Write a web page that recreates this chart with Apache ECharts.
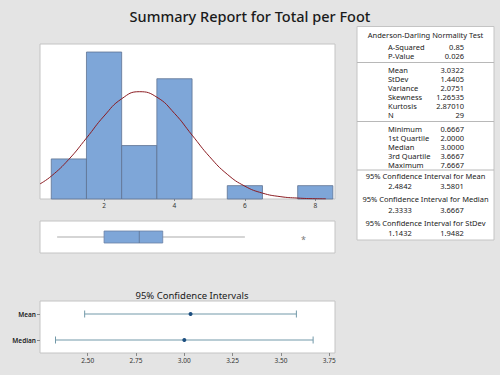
<!DOCTYPE html>
<html>
<head>
<meta charset="utf-8">
<script src="https://cdn.jsdelivr.net/npm/echarts@6/dist/echarts.min.js"></script>
<style>
  html, body { margin: 0; padding: 0; background: #e4e4e4; }
  #chart { width: 500px; height: 375px; }
</style>
</head>
<body>
<div id="chart"></div>
<script>
// histogram bins (lower edge, upper edge) and counts
const binLo = [0.5, 1.5, 2.5, 3.5, 5.5, 7.5]
const binHi = [1.5, 2.5, 3.5, 4.5, 6.5, 8.5]
const binCount = [3, 11, 4, 9, 1, 1]

// fitted normal curve
const curveX = [0.18, 0.5, 1, 1.5, 2, 2.5, 3, 3.5, 4, 4.5, 5, 5.5, 6, 6.5, 7, 7.5, 8, 8.3]
const curveY = [1.13, 1.71, 2.97, 4.56, 6.21, 7.50, 8.03, 7.62, 6.41, 4.78, 3.16, 1.85, 0.96, 0.44, 0.18, 0.07, 0.02, 0.01]

const histTicks = [2, 4, 6, 8]

// boxplot: whisker low, Q1, median, Q3, whisker high
const boxStats = [0.6667, 2.0, 3.0, 3.6667, 6.0]
const outliers = [7.6667]

// confidence intervals
const ciLabels = ['Mean', 'Median']
const ciLow = [2.4842, 2.3333]
const ciHigh = [3.5801, 3.6667]
const ciCenter = [3.0322, 3.0]
const ciTicks = [2.5, 2.75, 3.0, 3.25, 3.5, 3.75]

// summary table
const adLabels = ['A-Squared', 'P-Value']
const adValues = ['0.85', '0.026']
const statLabels = ['Mean', 'StDev', 'Variance', 'Skewness', 'Kurtosis', 'N']
const statValues = ['3.0322', '1.4405', '2.0751', '1.26535', '2.87010', '29']
const quartLabels = ['Minimum', '1st Quartile', 'Median', '3rd Quartile', 'Maximum']
const quartValues = ['0.6667', '2.0000', '3.0000', '3.6667', '7.6667']
const ciTitles = ['95% Confidence Interval for Mean', '95% Confidence Interval for Median', '95% Confidence Interval for StDev']
const ciPairLow = ['2.4842', '2.3333', '1.1432']
const ciPairHigh = ['3.5801', '3.6667', '1.9482']

const FONT = '"Noto Sans", "Open Sans", sans-serif'
const chart = echarts.init(document.getElementById('chart'), null, { renderer: 'svg' })

// table built as graphic texts
const tbl = []
const tx = 357, tw = 137, labelX = 388, valueX = 464
function txt(text, x, y, align) {
  tbl.push({
    type: 'text', x: x, y: y, silent: true,
    style: { text: text, fill: '#1a1a1a', font: '7.5px ' + FONT, textAlign: align, textVerticalAlign: 'middle', align: align, verticalAlign: 'middle' }
  })
}
function hline(y) {
  tbl.push({ type: 'line', shape: { x1: tx, y1: y, x2: tx + tw, y2: y }, style: { stroke: '#b8b8b8', lineWidth: 1 }, silent: true })
}
tbl.push({ type: 'rect', shape: { x: tx, y: 26.5, width: tw, height: 213.5 }, style: { fill: '#fff', stroke: '#c4c4c4', lineWidth: 1 }, silent: true })
txt('Anderson-Darling Normality Test', tx + tw / 2, 35, 'center')
adLabels.forEach((l, i) => { txt(l, labelX, 46.5 + 9.3 * i, 'left'); txt(adValues[i], valueX, 46.5 + 9.3 * i, 'right') })
hline(62.5)
statLabels.forEach((l, i) => { txt(l, labelX, 69.5 + 9 * i, 'left'); txt(statValues[i], valueX, 69.5 + 9 * i, 'right') })
hline(121.5)
quartLabels.forEach((l, i) => { txt(l, labelX, 128.7 + 9 * i, 'left'); txt(quartValues[i], valueX, 128.7 + 9 * i, 'right') })
hline(170)
ciTitles.forEach((t, i) => {
  txt(t, tx + tw / 2, 175.5 + 23.5 * i, 'center')
  txt(ciPairLow[i], 400, 186 + 23.5 * i, 'center')
  txt(ciPairHigh[i], 452, 186 + 23.5 * i, 'center')
})

const histData = binLo.map((lo, i) => [lo, binHi[i], binCount[i]])
const curveData = curveX.map((x, i) => [x, curveY[i]])
const ciData = ciLabels.map((c, i) => [i, ciLow[i], ciHigh[i], ciCenter[i]])

const option = {
  backgroundColor: '#e4e4e4',
  textStyle: { fontFamily: FONT },
  title: [
    { text: 'Summary Report for Total per Foot', left: 'center', top: 3, textStyle: { fontSize: 14.5, fontWeight: 500, color: '#1a1a1a', fontFamily: FONT } },
    { text: '95% Confidence Intervals', left: 187, textAlign: 'center', top: 285, textStyle: { fontSize: 9.5, fontWeight: 'normal', color: '#1a1a1a', fontFamily: FONT } }
  ],
  grid: [
    { left: 40, top: 44, width: 295, height: 155, show: true, backgroundColor: '#fff', borderColor: '#c4c4c4' },
    { left: 40, top: 221, width: 295, height: 32, show: true, backgroundColor: '#fff', borderColor: '#c4c4c4' },
    { left: 40, top: 301, width: 295, height: 52, show: true, backgroundColor: '#fff', borderColor: '#c4c4c4' }
  ],
  xAxis: [
    {
      gridIndex: 0, type: 'value', min: 0.18, max: 8.56,
      axisLine: { show: false }, splitLine: { show: false },
      axisTick: { show: true, customValues: histTicks, length: 2, lineStyle: { color: '#888' } },
      axisLabel: { customValues: histTicks, fontSize: 6.5, color: '#333', margin: 3 }
    },
    {
      gridIndex: 1, type: 'value', min: 0.18, max: 8.56,
      axisLine: { show: false }, splitLine: { show: false }, axisTick: { show: false }, axisLabel: { show: false }
    },
    {
      gridIndex: 2, type: 'value', min: 2.253, max: 3.78,
      axisLine: { show: false }, splitLine: { show: false },
      axisTick: { show: true, customValues: ciTicks, length: 3, lineStyle: { color: '#888' } },
      axisLabel: { customValues: ciTicks, fontSize: 6.5, color: '#333', margin: 4, formatter: v => v.toFixed(2) }
    }
  ],
  yAxis: [
    { gridIndex: 0, type: 'value', min: 0, max: 11.6, show: false, splitLine: { show: false } },
    { gridIndex: 1, type: 'value', min: 0, max: 1, show: false, splitLine: { show: false } },
    {
      gridIndex: 2, type: 'category', data: ciLabels, inverse: true,
      axisLine: { show: false },
      axisTick: { show: true, alignWithLabel: true, length: 3, lineStyle: { color: '#888' } },
      axisLabel: { fontSize: 6.5, color: '#1a1a1a', fontWeight: 600, margin: 4 }
    }
  ],
  graphic: { elements: tbl },
  series: [
    {
      type: 'custom', xAxisIndex: 0, yAxisIndex: 0, data: histData,
      encode: { x: [0, 1], y: 2 },
      renderItem: (params, api) => {
        const p0 = api.coord([api.value(0), 0])
        const p1 = api.coord([api.value(1), api.value(2)])
        return {
          type: 'rect',
          shape: { x: p0[0], y: p1[1], width: p1[0] - p0[0], height: p0[1] - p1[1] },
          style: { fill: '#7ea6d8', stroke: '#5e7292', lineWidth: 0.8 }
        }
      }
    },
    {
      type: 'line', xAxisIndex: 0, yAxisIndex: 0, data: curveData, smooth: true,
      symbol: 'none', lineStyle: { color: '#8b1c22', width: 1 }, z: 5
    },
    {
      type: 'custom', xAxisIndex: 1, yAxisIndex: 1, data: [boxStats],
      encode: { x: [0, 1, 2, 3, 4] },
      renderItem: (params, api) => {
        const lo = api.coord([api.value(0), 0.5])
        const q1 = api.coord([api.value(1), 0.5])
        const md = api.coord([api.value(2), 0.5])
        const q3 = api.coord([api.value(3), 0.5])
        const hi = api.coord([api.value(4), 0.5])
        const h = 6
        return {
          type: 'group',
          children: [
            { type: 'line', shape: { x1: lo[0], y1: lo[1], x2: hi[0], y2: hi[1] }, style: { stroke: '#ababab', lineWidth: 1 } },
            { type: 'rect', shape: { x: q1[0], y: q1[1] - h, width: q3[0] - q1[0], height: 2 * h }, style: { fill: '#7ea6d8', stroke: '#6a80a4', lineWidth: 0.8 } },
            { type: 'line', shape: { x1: md[0], y1: md[1] - h, x2: md[0], y2: md[1] + h }, style: { stroke: '#5e7292', lineWidth: 0.8 } }
          ]
        }
      }
    },
    {
      type: 'custom', xAxisIndex: 1, yAxisIndex: 1, data: outliers.map(v => [v, 0.5]),
      encode: { x: 0, y: 1 },
      renderItem: (params, api) => {
        const p = api.coord([api.value(0), api.value(1)])
        return {
          type: 'text', x: p[0], y: p[1] + 2,
          style: { text: '*', fill: '#7a7a7a', font: '9px ' + FONT, align: 'center', verticalAlign: 'middle' }
        }
      }
    },
    {
      type: 'custom', xAxisIndex: 2, yAxisIndex: 2, data: ciData,
      encode: { x: [1, 2, 3], y: 0 },
      renderItem: (params, api) => {
        const a = api.coord([api.value(1), api.value(0)])
        const b = api.coord([api.value(2), api.value(0)])
        const c = api.coord([api.value(3), api.value(0)])
        const cap = 3.5
        const st = { stroke: '#7299a9', lineWidth: 1 }
        return {
          type: 'group',
          children: [
            { type: 'line', shape: { x1: a[0], y1: a[1], x2: b[0], y2: b[1] }, style: st },
            { type: 'line', shape: { x1: a[0], y1: a[1] - cap, x2: a[0], y2: a[1] + cap }, style: st },
            { type: 'line', shape: { x1: b[0], y1: b[1] - cap, x2: b[0], y2: b[1] + cap }, style: st },
            { type: 'circle', shape: { cx: c[0], cy: c[1], r: 2 }, style: { fill: '#1d4f80' } }
          ]
        }
      }
    }
  ]
}

chart.setOption(option)
</script>
</body>
</html>
